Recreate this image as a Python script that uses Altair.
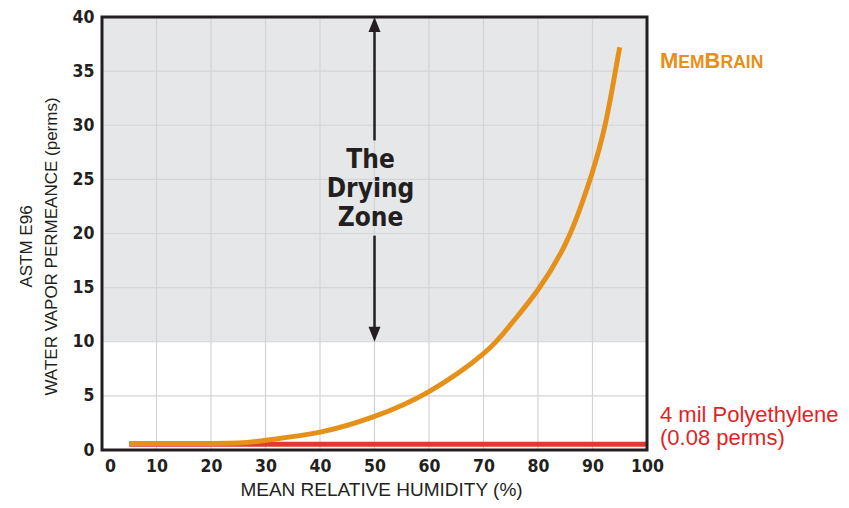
import altair as alt
import pandas as pd

# ---- data ----
rh_membrain = [5, 15, 25, 30, 40, 50, 60, 70, 75, 80, 85, 88, 90, 92.3, 94.2, 95]
perm_membrain = [0.6, 0.6, 0.65, 0.9, 1.65, 3.1, 5.4, 8.9, 11.6, 14.8, 19.0, 22.7, 25.7, 30.0, 35.0, 37.2]
rh_poly = [5, 100]
perm_poly = [0.52, 0.52]
x_grid = [10, 20, 30, 40, 50, 60, 70, 80, 90]
y_grid = [5, 10, 15, 20, 25, 30, 35]
x_ticks = [0, 10, 20, 30, 40, 50, 60, 70, 80, 90, 100]
y_ticks = [0, 5, 10, 15, 20, 25, 30, 35, 40]
zone = {"x1": 0, "x2": 100, "y1": 10, "y2": 40}
frame = {"x1": 0, "x2": 100, "y1": 0, "y2": 40}

COND = "DejaVu Sans Condensed, Liberation Sans Narrow, Arial Narrow, sans-serif"
SANS = "Liberation Sans, Arial, Helvetica, sans-serif"
ORANGE = "#e59119"
RED = "#e0392f"
RED_TXT = "#e31f26"
INK = "#231f20"

xs = alt.Scale(domain=[0, 100], nice=False, zero=False)
ys = alt.Scale(domain=[0, 40], nice=False)

mem_df = pd.DataFrame({"rh": rh_membrain, "perm": perm_membrain})
poly_df = pd.DataFrame({"rh": rh_poly, "perm": perm_poly})

bg = alt.Chart(pd.DataFrame([zone])).mark_rect(color="#e6e7e8").encode(
    x=alt.X("x1:Q", scale=xs, title="MEAN RELATIVE HUMIDITY (%)",
            axis=alt.Axis(values=x_ticks, grid=False, ticks=False, domain=False,
                          labelFlush=False,
                          labelOffset={"condition": {"test": "datum.value == 0", "value": 8}, "value": 0},
                          labelFont=COND, labelFontWeight="bold", labelFontSize=17.5,
                          labelColor=INK, labelPadding=7,
                          titleFont=SANS, titleFontSize=19, titleFontWeight="normal",
                          titleColor=INK, titlePadding=6, titleX=279)),
    x2="x2:Q",
    y=alt.Y("y1:Q", scale=ys,
            title=["ASTM E96", "WATER VAPOR PERMEANCE (perms)"],
            axis=alt.Axis(values=y_ticks, grid=False, ticks=False, domain=False,
                          labelFlush=False,
                          labelFont=COND, labelFontWeight="bold", labelFontSize=17.5,
                          labelColor=INK, labelPadding=8,
                          titleFont=SANS, titleFontSize=17, titleFontWeight="normal",
                          titleColor=INK, titlePadding=12, titleLineHeight=25,
                          titleY=229)),
    y2="y2:Q",
)

vgrid = alt.Chart(pd.DataFrame({"g": x_grid})).mark_rule(color="#d3d4d6", strokeWidth=1.2).encode(
    x=alt.X("g:Q", scale=xs))
hgrid = alt.Chart(pd.DataFrame({"g": y_grid})).mark_rule(color="#d3d4d6", strokeWidth=1.2).encode(
    y=alt.Y("g:Q", scale=ys))

poly = alt.Chart(poly_df).mark_line(color=RED, strokeWidth=5, strokeCap="butt").encode(
    x=alt.X("rh:Q", scale=xs), y=alt.Y("perm:Q", scale=ys))
mem = alt.Chart(mem_df).mark_line(color=ORANGE, strokeWidth=5, interpolate="natural",
                                  strokeCap="butt").encode(
    x=alt.X("rh:Q", scale=xs), y=alt.Y("perm:Q", scale=ys))

frame_layer = alt.Chart(pd.DataFrame([frame])).mark_rect(
    fillOpacity=0, stroke=INK, strokeWidth=3).encode(
    x=alt.X("x1:Q", scale=xs), x2="x2:Q", y=alt.Y("y1:Q", scale=ys), y2="y2:Q")

# Drying zone arrow
seg_df = pd.DataFrame({"x": [50, 50], "y1": [39, 10.8], "y2": [28.6, 19.8]})
arrow_lines = alt.Chart(seg_df).mark_rule(color=INK, strokeWidth=2.5).encode(
    x=alt.X("x:Q", scale=xs), y=alt.Y("y1:Q", scale=ys), y2="y2:Q")
up = alt.Chart(pd.DataFrame({"x": [50], "y": [39.3]})).mark_point(
    shape="M0,-1L0.8,1L-0.8,1Z", filled=True, color=INK, size=225, opacity=1).encode(
    x=alt.X("x:Q", scale=xs), y=alt.Y("y:Q", scale=ys))
down = alt.Chart(pd.DataFrame({"x": [50], "y": [10.7]})).mark_point(
    shape="M0,1L0.8,-1L-0.8,-1Z", filled=True, color=INK, size=225, opacity=1).encode(
    x=alt.X("x:Q", scale=xs), y=alt.Y("y:Q", scale=ys))
zone_txt = alt.Chart(pd.DataFrame({"x": [50], "y": [26.8], "t": ["The\nDrying\nZone"]})).mark_text(
    font=COND, fontWeight="bold", fontSize=26, lineBreak="\n", lineHeight=29,
    align="center", baseline="middle", color=INK, dx=-4).encode(
    x=alt.X("x:Q", scale=xs), y=alt.Y("y:Q", scale=ys), text="t:N")

# MemBrain label in small caps
mb_parts = ["M", "EM", "B", "RAIN"]
mb_sizes = [22, 17.5, 22, 17.5]
mb_dx = [13, 31.3, 57.6, 73.5]
mb_layers = []
for t, s, d in zip(mb_parts, mb_sizes, mb_dx):
    mb_layers.append(
        alt.Chart(pd.DataFrame({"x": [100], "y": [35.3], "t": [t]})).mark_text(
            font=SANS, fontWeight="bold", fontSize=s, color=ORANGE,
            align="left", baseline="alphabetic", dx=d).encode(
            x=alt.X("x:Q", scale=xs), y=alt.Y("y:Q", scale=ys), text="t:N"))

poly_txt = alt.Chart(pd.DataFrame({"x": [100, 100], "y": [2.61, 0.46],
                                   "t": ["4 mil Polyethylene", "(0.08 perms)"]})).mark_text(
    font=SANS, fontSize=22, color=RED_TXT, align="left", baseline="alphabetic", dx=13).encode(
    x=alt.X("x:Q", scale=xs), y=alt.Y("y:Q", scale=ys), text="t:N")

chart = alt.layer(bg, vgrid, hgrid, poly, mem, frame_layer, arrow_lines, up, down, zone_txt,
                  *mb_layers, poly_txt).properties(
    width=545, height=433,
    autosize=alt.AutoSizeParams(type="none"),
    padding={"left": 94, "top": 9, "right": 194, "bottom": 50},
    background="white",
).configure_view(strokeWidth=0)

chart.save("out.html", embed_options={"renderer": "svg", "actions": False})
